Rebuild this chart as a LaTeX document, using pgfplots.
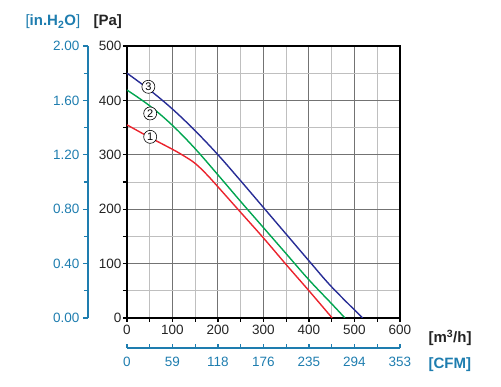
\documentclass[border=0pt]{standalone}
\usepackage{fontspec}
\setmainfont{Liberation Sans}
\usepackage{pgfplots}
\pgfplotsset{compat=1.18}
\definecolor{axblue}{RGB}{30,125,175}
\definecolor{cred}{RGB}{235,35,45}
\definecolor{cgreen}{RGB}{0,165,80}
\definecolor{cblue}{RGB}{40,45,150}
\definecolor{txt}{RGB}{35,35,35}
\begin{document}
\begin{tikzpicture}[font=\fontsize{13.5}{16}\selectfont]
\useasboundingbox (-127pt,-69pt) rectangle (374pt,318pt);
% in.H2O axis
\begin{axis}[at={(-39pt,0pt)}, anchor=south west,
  scale only axis, width=273pt, height=272pt,
  xmin=0, xmax=1, ymin=0, ymax=2,
  hide x axis, axis y line*=left,
  axis line style={axblue, line width=1.5pt},
  y axis line style={-},
  ytick={0,0.4,0.8,1.2,1.6,2}, yticklabels={0.00,0.40,0.80,1.20,1.60,2.00},
  minor ytick={0.2,0.6,1.0,1.4,1.8},
  tick align=outside, major tick length=5pt, minor tick length=4pt,
  tick style={axblue, line width=1.2pt},
  yticklabel style={text=axblue},
]
\addplot[draw=none] coordinates {(0,0)};
\end{axis}
% CFM axis
\begin{axis}[at={(0pt,-30pt)}, anchor=south west,
  scale only axis, width=273pt, height=10pt,
  xmin=0, xmax=600, ymin=0, ymax=1,
  hide y axis, axis x line*=bottom,
  axis line style={axblue, line width=1.5pt},
  x axis line style={-},
  xtick={0,100,...,600}, xticklabels={0,59,118,176,235,294,353},
  minor xtick={50,150,...,550},
  tick align=inside, major tick length=4pt, minor tick length=4pt,
  tick style={axblue, line width=1.2pt},
  xticklabel style={text=axblue, yshift=-6pt},
]
\addplot[draw=none] coordinates {(0,0)};
\end{axis}
% main axis
\begin{axis}[at={(0pt,0pt)}, anchor=south west,
  scale only axis, width=273pt, height=272pt,
  xmin=0, xmax=600, ymin=0, ymax=500,
  xtick={0,100,...,600}, ytick={0,100,...,500},
  minor xtick={50,150,...,550}, minor ytick={50,150,...,450},
  grid=both,
  major grid style={black!55, line width=1pt},
  minor grid style={black!25, line width=0.8pt},
  axis line style={black, line width=1.6pt},
  tick align=outside, xtick pos=bottom, ytick pos=left,
  major tick length=4pt, minor tick length=4pt,
  tick style={black, line width=1.2pt},
  /pgf/number format/assume math mode=true,
  ticklabel style={text=txt},
  yticklabel style={xshift=2pt},
]
\addplot[cred, line width=1.4pt, smooth, tension=0.6] coordinates {
(0,355) (50,332) (100,310) (125,298) (150,284) (175,264) (200,241) (250,194) (300,147) (350,98) (400,50) (451,0)};
\addplot[cgreen, line width=1.4pt, smooth, tension=0.6] coordinates {
(0,419) (50,390) (100,354) (150,311) (200,263) (250,214) (300,166) (350,118) (400,70) (450,26) (479,0)};
\addplot[cblue, line width=1.4pt, smooth, tension=0.6] coordinates {
(0,450) (50,419) (100,384) (150,344) (200,300) (250,252) (300,203) (350,154) (400,105) (450,57) (518,0)};
\tikzset{lab/.style={circle, draw=black, line width=0.6pt, fill=white, inner sep=0pt, minimum size=13pt, font=\fontsize{11}{11}\selectfont}}
\node[lab] at (axis cs:47,425) {3};
\node[lab] at (axis cs:51,376) {2};
\node[lab] at (axis cs:51,333) {1};
\end{axis}
\node[anchor=base west, text=axblue, font=\fontsize{15}{18}\selectfont\bfseries] at (-105pt,292pt) {{\mdseries[}in.H\textsubscript{2}O{\mdseries]}};
\node[anchor=base west, text=txt, font=\fontsize{15}{18}\selectfont\bfseries] at (-37pt,292pt) {[Pa]};
\node[anchor=base west, text=txt, font=\fontsize{15}{18}\selectfont\bfseries] at (298pt,-25pt) {[m\textsuperscript{3}/h]};
\node[anchor=base west, text=axblue, font=\fontsize{15}{18}\selectfont\bfseries] at (298pt,-51pt) {[CFM]};
\end{tikzpicture}
\end{document}
